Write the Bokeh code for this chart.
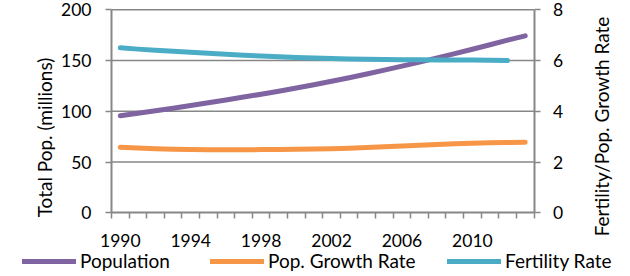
import math
from bokeh.plotting import figure
from bokeh.models import (Range1d, LinearAxis, FixedTicker, Legend, LegendItem,
                          Label, CustomJSTickFormatter)
from bokeh.embed import file_html
from bokeh.resources import INLINE

years = list(range(1990, 2014))
population = [95.6, 98.0, 100.5, 103.1, 105.8, 108.4, 111.2, 114.0, 116.8, 119.8,
              122.9, 126.2, 129.6, 133.1, 136.8, 140.6, 144.5, 148.5, 152.6, 156.8,
              161.1, 165.6, 170.1, 174.3]
growth_rate = [2.58, 2.55, 2.52, 2.50, 2.49, 2.48, 2.48, 2.48, 2.49, 2.49,
               2.50, 2.51, 2.52, 2.54, 2.57, 2.60, 2.63, 2.66, 2.69, 2.72,
               2.74, 2.76, 2.77, 2.78]
fertility_years = list(range(1990, 2013))
fertility = [6.50, 6.45, 6.41, 6.37, 6.33, 6.29, 6.25, 6.21, 6.18, 6.15,
             6.12, 6.10, 6.08, 6.06, 6.05, 6.04, 6.03, 6.03, 6.02, 6.02,
             6.02, 6.01, 6.00]
label_years = [1990, 1994, 1998, 2002, 2006, 2010]
left_ticks = [0, 50, 100, 150, 200]
right_ticks = [0, 2, 4, 6, 8]
series_names = ["Population", "Pop. Growth Rate", "Fertility Rate"]
left_title = "Total Pop. (millions)"
right_title = "Fertility/Pop. Growth Rate"

FONT = "Lato"
FS = "17.5px"
FS_TXT = "19px"
GRAY = "#878787"
C_POP = "#8064A2"
C_GR = "#F79646"
C_FR = "#4BACC6"
LW = 5

# page / plot-area geometry (pixels)
W, H = 630, 276
PX_L, PX_R, PX_T, PX_B = 111.0, 533.5, 9.3, 212.3

n = len(years)
x_lo, x_hi = -0.5, n - 0.5
xs_per_px = (x_hi - x_lo) / (PX_R - PX_L)
x_start = x_lo - PX_L * xs_per_px
x_end = x_hi + (W - PX_R) * xs_per_px

yl_lo, yl_hi = left_ticks[0], left_ticks[-1]
yr_lo, yr_hi = right_ticks[0], right_ticks[-1]
def yrange(lo, hi):
    per_px = (hi - lo) / (PX_B - PX_T)
    return Range1d(lo - (H - PX_B) * per_px, hi + PX_T * per_px)

idx = [y - years[0] for y in years]
fidx = [y - years[0] for y in fertility_years]

p = figure(width=W, height=H, output_backend="svg", toolbar_location=None,
           x_range=Range1d(x_start, x_end), y_range=yrange(yl_lo, yl_hi),
           min_border_left=0, min_border_right=0, min_border_top=0,
           min_border_bottom=0, x_axis_type=None, y_axis_type=None)
p.outline_line_color = None
p.extra_y_ranges = {"right": yrange(yr_lo, yr_hi)}

# gridlines (plot area only)
p.segment(x0=[x_lo] * (len(left_ticks) - 1), x1=[x_hi] * (len(left_ticks) - 1),
          y0=left_ticks[1:], y1=left_ticks[1:], line_color=GRAY, line_width=1.5)

# x axis
xaxis = LinearAxis(fixed_location=yl_lo, bounds=(x_lo, x_hi))
xaxis.ticker = FixedTicker(ticks=[y - years[0] for y in label_years],
                           minor_ticks=[i - 0.5 for i in range(n + 1)])
xaxis.formatter = CustomJSTickFormatter(args=dict(base=years[0]),
                                        code="return String(tick + base);")
xaxis.major_tick_out = 0
xaxis.major_tick_in = 0
xaxis.minor_tick_out = 6
xaxis.minor_tick_in = 0
xaxis.minor_tick_line_color = GRAY
xaxis.minor_tick_line_width = 1.5
xaxis.axis_line_color = GRAY
xaxis.axis_line_width = 2
xaxis.major_label_standoff = 15
xaxis.major_label_text_font = FONT
xaxis.major_label_text_font_size = FS
xaxis.major_label_text_color = "#000000"
p.add_layout(xaxis, "below")

def style_y(ax, standoff):
    ax.major_tick_out = 6
    ax.major_tick_in = 0
    ax.major_tick_line_color = GRAY
    ax.major_tick_line_width = 1.5
    ax.axis_line_color = GRAY
    ax.axis_line_width = 2
    ax.major_label_standoff = standoff
    ax.major_label_text_font = FONT
    ax.major_label_text_font_size = FS
    ax.major_label_text_color = "#000000"

laxis = LinearAxis(fixed_location=x_lo, bounds=(yl_lo, yl_hi))
laxis.ticker = FixedTicker(ticks=left_ticks, minor_ticks=[])
style_y(laxis, 14)
p.add_layout(laxis, "left")

raxis = LinearAxis(y_range_name="right", fixed_location=x_hi, bounds=(yr_lo, yr_hi))
raxis.ticker = FixedTicker(ticks=right_ticks, minor_ticks=[])
style_y(raxis, 13)
p.add_layout(raxis, "right")

r_pop = p.line(idx, population, line_color=C_POP, line_width=LW, line_cap="round",
               line_join="round")
r_gr = p.line(idx, growth_rate, line_color=C_GR, line_width=LW, line_cap="round",
              line_join="round", y_range_name="right")
r_fr = p.line(fidx, fertility, line_color=C_FR, line_width=LW, line_cap="round",
              line_join="round", y_range_name="right")

# axis titles (screen units measured from the canvas bottom-left)
p.add_layout(Label(x=44, y=H - 137, x_units="screen", y_units="screen",
                   text=left_title, angle=math.pi / 2, text_align="center",
                   text_baseline="middle", text_font=FONT, text_font_size=FS_TXT,
                   text_color="#000000"))
p.add_layout(Label(x=601, y=H - 126, x_units="screen", y_units="screen",
                   text=right_title, angle=math.pi / 2, text_align="center",
                   text_baseline="middle", text_font=FONT, text_font_size=FS_TXT,
                   text_color="#000000"))

# legend entries
for name, rend, xloc in zip(series_names, [r_pop, r_gr, r_fr], [22, 210, 447]):
    lg = Legend(items=[LegendItem(label=name, renderers=[rend])], location=(xloc, 4),
                orientation="horizontal", glyph_width=54, glyph_height=20,
                label_height=20, label_standoff=4, padding=0, margin=0, spacing=0,
                border_line_color=None, background_fill_alpha=0,
                label_text_font=FONT, label_text_font_size=FS_TXT,
                label_text_color="#000000")
    p.add_layout(lg)

open("out.html", "w").write(file_html(p, INLINE))
